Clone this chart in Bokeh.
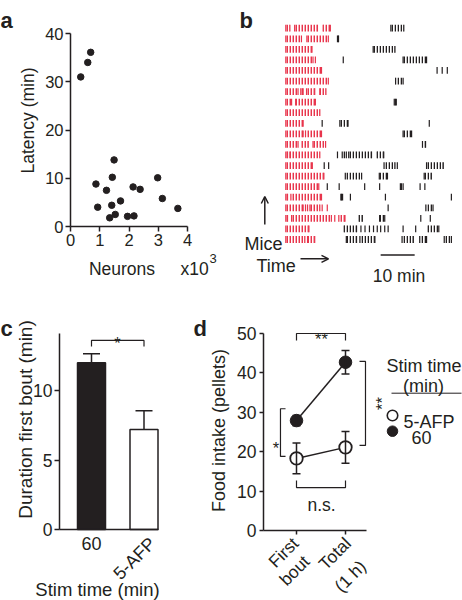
from math import pi
from bokeh.plotting import figure
from bokeh.layouts import row, column
from bokeh.models import (Range1d, Label, Arrow, OpenHead, FixedTicker,
                          ColumnDataSource, Whisker, TeeHead)
from bokeh.embed import file_html
from bokeh.resources import INLINE

FONT = "Liberation Sans"
INK = "#231f20"
RED = "#e8354c"

# ---------------- data ----------------
# panel a: neurons (x10^3) vs latency (min)
neurons_k = [0.35, 0.59, 0.69, 1.49, 1.43, 0.87, 0.93, 1.23, 1.41, 1.71,
             1.53, 1.34, 1.95, 2.17, 2.14, 2.38, 2.98, 3.14, 3.67]
latency_min = [31.0, 34.0, 36.1, 13.8, 10.2, 8.8, 4.0, 7.5, 4.4, 5.3,
               2.5, 1.8, 2.1, 2.2, 8.2, 7.7, 10.1, 5.8, 3.75]
a_xticks = [0, 1, 2, 3, 4]
a_yticks = [0, 10, 20, 30, 40]

# panel b: feeding bouts per mouse (minutes), top row first; [start, end]
red_bouts = [
    [[0, 1.2], [2.6, 9.3], [11.0, 13.1]],
    [[0, 4.6], [6.2, 12.5]],
    [[0, 7.7]],
    [[0, 8.0], [8.7, 8.7]],
    [[0, 10.5]],
    [[0, 12.5]],
    [[0, 3.6], [4.4, 5.1], [6.1, 8.5], [10.0, 11.8]],
    [[0, 1.7], [2.9, 8.7]],
    [[0, 10.0]],
    [[0, 5.1]],
    [[0, 5.1], [5.8, 10.5]],
    [[0, 3.6], [4.8, 6.6], [8.0, 11.7]],
    [[0, 0.5], [1.2, 10.0]],
    [[0, 7.8]],
    [[0, 11.2]],
    [[0, 9.7]],
    [[0, 0.5], [1.5, 10.5]],
    [[0, 5.1], [5.8, 6.4], [7.1, 10.0], [10.7, 10.7], [12.2, 12.2]],
    [[0, 0.5], [1.7, 13.4], [14.4, 14.4], [15.6, 17.4]],
    [[0, 6.8]],
    [[0, 5.6], [6.4, 8.5]],
]
black_bouts = [
    [[30.9, 34.7]],
    [[15.2, 15.5]],
    [[25.7, 32.1]],
    [[16.9, 16.9], [34.5, 41.4]],
    [[44.5, 44.5], [46.0, 46.0], [47.5, 47.5]],
    [[32.3, 34.5]],
    [],
    [[31.9, 32.5]],
    [],
    [[10.7, 10.7], [15.9, 18.3], [42.2, 42.2]],
    [[34.5, 37.0]],
    [[40.2, 41.1]],
    [[15.2, 15.2], [16.6, 17.8], [18.5, 25.2], [26.9, 28.8]],
    [[11.3, 11.3], [12.6, 12.6], [28.9, 32.1], [32.8, 32.8], [41.4, 46.3]],
    [[17.5, 22.3], [27.5, 29.9], [40.7, 42.8]],
    [[12.2, 12.2], [15.7, 15.7], [23.2, 23.2], [27.6, 27.6], [33.7, 34.5],
     [39.5, 39.5], [40.9, 40.9]],
    [[16.2, 16.7], [19.0, 19.0], [29.3, 29.3], [48.7, 48.7]],
    [[30.1, 30.1], [41.2, 43.3]],
    [[21.6, 22.5], [27.6, 29.1], [39.7, 39.7], [42.5, 42.5]],
    [[17.2, 20.8], [22.1, 22.1], [23.3, 23.3], [24.6, 24.6], [25.8, 25.8],
     [26.9, 26.9], [27.9, 27.9], [29.1, 29.1], [30.1, 30.1], [34.5, 34.5],
     [38.2, 38.2], [41.9, 45.0]],
    [[17.8, 20.8], [21.8, 26.2], [34.2, 37.5], [39.4, 41.4], [46.6, 48.7]],
]
scale_bar_start = 27.9
scale_bar_min = 10

# panel c: duration of first bout
stim_labels = ["60", "5-AFP"]
bout_mean = [12.0, 7.2]
bout_sem = [0.65, 1.35]
c_yticks = [0, 5, 10]

# panel d: food intake (pellets)
intake_cats = ["First\nbout", "Total\n(1 h)"]
intake_60 = [27.9, 42.7]
intake_60_sem = [1.3, 3.0]
intake_afp = [18.3, 21.1]
intake_afp_sem = [3.9, 4.0]
d_yticks = [0, 10, 20, 30, 40, 50]
legend_names = ["5-AFP", "60"]


# ---------------- layout helpers ----------------
def panel(ox, oy, w, h, xm, ym, **kw):
    """Figure whose frame fills the whole canvas; xm/ym map data to
    page-pixel positions: X = xm[1] + (x - xm[0]) * xm[2]."""
    def invx(X):
        return xm[0] + (X - xm[1]) / xm[2]

    def invy(Y):
        return ym[0] - (Y - ym[1]) / ym[2]

    p = figure(width=w, height=h,
               x_range=Range1d(invx(ox), invx(ox + w)),
               y_range=Range1d(invy(oy + h), invy(oy)),
               min_border=0, min_border_left=0, min_border_right=0,
               min_border_top=0, min_border_bottom=0,
               toolbar_location=None, output_backend="svg",
               outline_line_color=None, background_fill_color="white",
               border_fill_color="white", **kw)
    p.grid.visible = False
    return p, invx, invy


def text(p, fx, fy, s, X, Y, size, align="left", base="alphabetic",
         angle=0.0, bold=False):
    p.add_layout(Label(x=fx(X), y=fy(Y), text=s, text_font=FONT,
                       text_font_size=f"{size}px", text_color=INK,
                       text_align=align, text_baseline=base, angle=angle,
                       text_font_style="bold" if bold else "normal"))


def style_axes(p, size, standoff=2, tick_out=5):
    for ax in p.axis:
        ax.axis_line_color = INK
        ax.axis_line_width = 1.5
        ax.major_tick_line_color = INK
        ax.major_tick_line_width = 1.5
        ax.major_tick_out = tick_out
        ax.major_tick_in = 0
        ax.minor_tick_line_color = None
        ax.major_label_text_font = FONT
        ax.major_label_text_font_size = f"{size}px"
        ax.major_label_text_color = INK
        ax.major_label_standoff = standoff


# ---------------- panel a ----------------
pa, ax_, ay_ = panel(0, 0, 231, 300, (0, 70, 117 / 4), (0, 226, 193 / 40))
pa.xaxis.ticker = FixedTicker(ticks=a_xticks)
pa.yaxis.ticker = FixedTicker(ticks=a_yticks)
pa.xaxis.fixed_location = 0
pa.yaxis.fixed_location = 0
pa.xaxis.bounds = (a_xticks[0], a_xticks[-1])
pa.yaxis.bounds = (a_yticks[0], a_yticks[-1])
style_axes(pa, 16.5)
pa.scatter(neurons_k, latency_min, size=6.5, fill_color=INK, line_color=INK)
text(pa, ax_, ay_, "a", 0, 20, 22, bold=True)
text(pa, ax_, ay_, "Latency (min)", 27, 120, 17.5, align="center",
     base="middle", angle=pi / 2)
text(pa, ax_, ay_, "Neurons", 121.5, 268, 17.5, align="center")
text(pa, ax_, ay_, "x10", 180, 268, 17.5)
text(pa, ax_, ay_, "3", 209, 258, 13)

# ---------------- panel b ----------------
pb, bx, by = panel(231, 0, 231, 300, (0, 285.3, 3.4), (1, 239, 10.565),
                   x_axis_type=None, y_axis_type=None)
n_rows = len(red_bouts)
HALF = 0.32


def raster(bouts, color, weight):
    ql, qr, qb, qt = [], [], [], []
    tx, ty0, ty1 = [], [], []
    for i, bl in enumerate(bouts):
        m = n_rows - i
        for s, e in bl:
            if e > s:
                ql.append(s); qr.append(e)
                qb.append(m - HALF); qt.append(m + HALF)
                ends = [s, e]
            else:
                ends = [s]
            for t in ends:
                tx.append(t); ty0.append(m - HALF); ty1.append(m + HALF)
    pb.quad(left=ql, right=qr, bottom=qb, top=qt, fill_color=None,
            line_color=None, hatch_pattern="vertical_line",
            hatch_color=color, hatch_scale=3, hatch_weight=weight)
    pb.segment(x0=tx, x1=tx, y0=ty0, y1=ty1, line_color=color,
               line_width=1.2)


raster(red_bouts, RED, 1.9)
raster(black_bouts, INK, 1.6)

ys = by(254.5)
pb.segment(x0=[scale_bar_start], x1=[scale_bar_start + scale_bar_min],
           y0=[ys], y1=[ys], line_color=INK, line_width=1.6)
pb.add_layout(Arrow(end=OpenHead(size=7, line_width=1.5, line_color=INK),
                    x_start=bx(264.3), y_start=by(224), x_end=bx(264.3),
                    y_end=by(196), line_width=1.5, line_color=INK))
pb.add_layout(Arrow(end=OpenHead(size=7, line_width=1.5, line_color=INK),
                    x_start=bx(300), y_start=by(258.3), x_end=bx(328),
                    y_end=by(258.3), line_width=1.5, line_color=INK))
text(pb, bx, by, "b", 239, 20, 22, bold=True)
text(pb, bx, by, "Mice", 244, 243, 18)
text(pb, bx, by, "Time", 256, 265, 18)
text(pb, bx, by, "10 min", 398.5, 275, 17.5, align="center")

# ---------------- panel c ----------------
pc, cx, cy = panel(0, 300, 185, 300, (0.5, 91, 52.5), (0, 529, 13.9))
xs_c = [0.5, 1.5]
pc.xaxis.ticker = FixedTicker(ticks=xs_c)
pc.xaxis.major_label_overrides = {0.5: stim_labels[0], 1.5: ""}
pc.yaxis.ticker = FixedTicker(ticks=c_yticks)
pc.xaxis.fixed_location = 0
pc.yaxis.fixed_location = cx(59)
pc.xaxis.bounds = (cx(59), cx(158))
pc.yaxis.bounds = (0, cy(333))
style_axes(pc, 17.5, standoff=2)
pc.xaxis.major_tick_out = 0
pc.xaxis.major_label_standoff = 7
pc.xaxis.major_label_text_font_size = "18px"
pc.vbar(x=xs_c, width=28 / 52.5, top=bout_mean, bottom=0,
        fill_color=[INK, "white"], line_color=INK, line_width=1.5)
src_c = ColumnDataSource(dict(
    x=xs_c,
    lo=[m - e for m, e in zip(bout_mean, bout_sem)],
    hi=[m + e for m, e in zip(bout_mean, bout_sem)]))
pc.add_layout(Whisker(source=src_c, base="x", upper="hi", lower="lo",
                      line_color=INK, line_width=1.5,
                      upper_head=TeeHead(size=17, line_color=INK, line_width=1.5),
                      lower_head=TeeHead(size=17, line_color=INK, line_width=1.5)))
pc.line([0.5, 0.5, 1.5, 1.5], [13.17, 13.6, 13.6, 13.17], line_color=INK,
        line_width=1.2)
text(pc, cx, cy, "*", 117, 342, 16.5, align="center")
text(pc, cx, cy, "c", 0, 328, 22, bold=True)
text(pc, cx, cy, "Duration first bout (min)", 25, 419, 19, align="center",
     base="middle", angle=pi / 2)
text(pc, cx, cy, stim_labels[1], 152, 540, 18, align="right",
     base="middle", angle=pi / 4)
text(pc, cx, cy, "Stim time (min)", 97, 589, 18.5, align="center")

# ---------------- panel d ----------------
pd_, dx, dy = panel(185, 300, 277, 300, (0.5, 296, 49), (0, 530, 3.94))
xs_d = [0.5, 1.5]
pd_.yaxis.ticker = FixedTicker(ticks=d_yticks)
pd_.xaxis.ticker = FixedTicker(ticks=xs_d)
pd_.xaxis.major_label_overrides = {0.5: "", 1.5: ""}
pd_.xaxis.fixed_location = 0
pd_.yaxis.fixed_location = dx(263)
pd_.yaxis.bounds = (d_yticks[0], d_yticks[-1])
pd_.xaxis.bounds = (dx(263), dx(366))
style_axes(pd_, 17.5, standoff=3, tick_out=4)

for mean, sem in ((intake_60, intake_60_sem), (intake_afp, intake_afp_sem)):
    src = ColumnDataSource(dict(x=xs_d,
                                lo=[m - e for m, e in zip(mean, sem)],
                                hi=[m + e for m, e in zip(mean, sem)]))
    pd_.add_layout(Whisker(source=src, base="x", upper="hi", lower="lo",
                           line_color=INK, line_width=1.5, level="glyph",
                           upper_head=TeeHead(size=8, line_color=INK, line_width=1.5),
                           lower_head=TeeHead(size=8, line_color=INK, line_width=1.5)))
    pd_.line(xs_d, mean, line_color=INK, line_width=1.5)
pd_.scatter(xs_d, intake_afp, size=12.5, fill_color="white", line_color=INK,
            line_width=1.8)
pd_.scatter(xs_d, intake_60, size=12.5, fill_color=INK, line_color=INK)

# significance brackets
pd_.line([0.5, 0.5, 1.5, 1.5], [48.2, 50, 50, 48.2], line_color=INK, line_width=1.2)
pd_.line([1.786, 1.908, 1.908, 1.786], [42.9, 42.9, 21.6, 21.6], line_color=INK, line_width=1.2)
pd_.line([0.276, 0.173, 0.173, 0.276], [30.9, 30.9, 18.8, 18.8], line_color=INK, line_width=1.2)
pd_.line([0.5, 0.5, 1.5, 1.5], [12.7, 10.9, 10.9, 12.7], line_color=INK, line_width=1.2)
text(pd_, dx, dy, "**", 321, 338, 16.5, align="center")
text(pd_, dx, dy, "**", 381, 403, 16.5, align="center", angle=pi / 2)
text(pd_, dx, dy, "*", 275.5, 447, 16.5, align="center")
text(pd_, dx, dy, "n.s.", 321, 504, 17.5, align="center")

# labels
text(pd_, dx, dy, "d", 193, 328, 22, bold=True)
text(pd_, dx, dy, "Food intake (pellets)", 218, 430, 18, align="center",
     base="middle", angle=pi / 2)
cat_line_ends = [[(295, 540), (306, 558)], [(347.5, 540), (362.5, 563)]]
for cat, ends in zip(intake_cats, cat_line_ends):
    for line_txt, (X, Y) in zip(cat.split("\n"), ends):
        text(pd_, dx, dy, line_txt, X, Y, 17.5, align="right", base="middle",
             angle=pi / 4)

# legend
text(pd_, dx, dy, "Stim time", 386, 365, 18)
text(pd_, dx, dy, "(min)", 423, 385, 18, align="center")
pd_.segment(x0=[dx(391)], x1=[dx(461)], y0=[dy(392.7)], y1=[dy(392.7)],
            line_color=INK, line_width=1)
pd_.scatter([dx(392)], [dy(415)], size=10.5, fill_color="white",
            line_color=INK, line_width=1.6)
pd_.scatter([dx(392)], [dy(430.7)], size=10.5, fill_color=INK, line_color=INK)
text(pd_, dx, dy, legend_names[0], 403, 421, 18)
text(pd_, dx, dy, legend_names[1], 411, 436.5, 18)

layout = column(row(pa, pb, spacing=0), row(pc, pd_, spacing=0), spacing=0)
open("out.html", "w").write(file_html(layout, INLINE))
